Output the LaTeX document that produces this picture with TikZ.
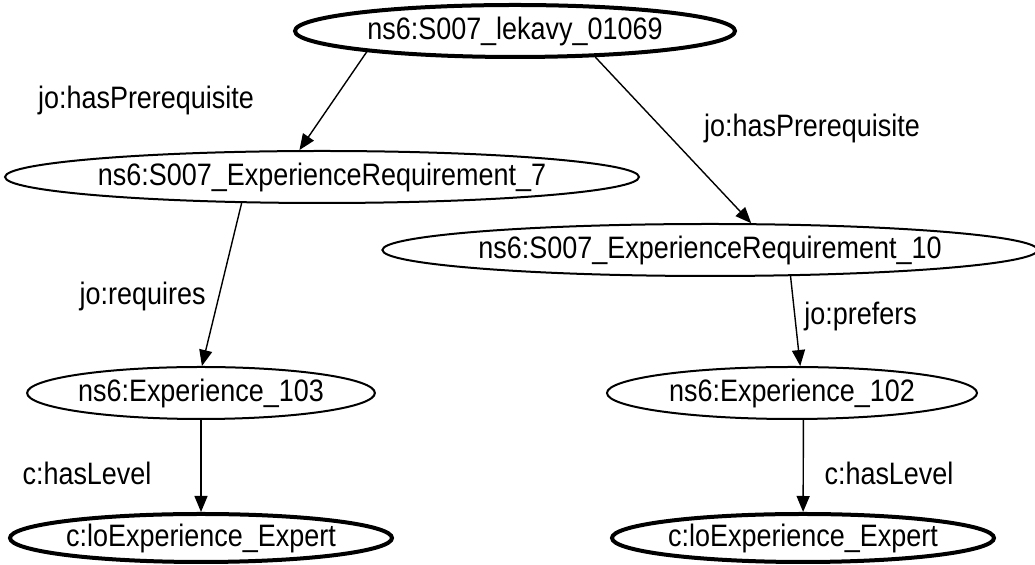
\documentclass[tikz,border=0pt]{standalone}
\usepackage{fontspec}
\setmainfont[FakeStretch=0.87]{Liberation Sans}
\usetikzlibrary{arrows.meta, shapes.geometric}

\begin{document}
\begin{tikzpicture}[
    x=0.5pt, y=-0.5pt,
    res/.style={draw, ellipse, inner sep=0pt, line width=1pt, minimum height=26pt,
                font=\fontsize{15.5}{18}\selectfont},
    leaf/.style={res, line width=2pt},
    lbl/.style={inner sep=0pt, font=\fontsize{15.5}{18}\selectfont},
    link/.style={-{Triangle[length=8pt, width=6.5pt]}, line width=0.7pt},
  ]
  \useasboundingbox (0,0) rectangle (1035,565);
  \node[leaf, minimum width=220pt] (lekavy) at (515,31) {ns6:S007\_lekavy\_01069};
  \node[res, minimum width=314pt] (req7) at (322,177) {ns6:S007\_ExperienceRequirement\_7};
  \node[res, minimum width=321pt] (req10) at (710,250) {ns6:S007\_ExperienceRequirement\_10};
  \node[res, minimum width=167pt] (exp103) at (201,393) {ns6:Experience\_103};
  \node[res, minimum width=185pt] (exp102) at (792,393) {ns6:Experience\_102};
  \node[leaf, minimum width=191pt, minimum height=24pt] (lvl103) at (201,538) {c:loExperience\_Expert};
  \node[leaf, minimum width=191pt, minimum height=24pt] (lvl102) at (803,538) {c:loExperience\_Expert};

  \draw[link] (lekavy.188) -- (req7.130);
  \draw[link] (lekavy.342) -- (req10.33);
  \draw[link] (req7.198) -- (exp103.88);
  \draw[link] (req10.342) -- (exp102.73);
  \draw[link] (exp103) -- (lvl103);
  \draw[link] (exp102.293) -- (lvl102);

  % edge labels
  \node[lbl] (l1) at (146,100) {jo:hasPrerequisite};
  \node[lbl] (l2) at (812,128) {jo:hasPrerequisite};
  \node[lbl, anchor=east] (l3) at (206,296) {jo:requires};
  \node[lbl, anchor=west] (l4) at (804,316) {jo:prefers};
  \node[lbl] (l5) at (87,473) {c:hasLevel};
  \node[lbl] (l6) at (889,473) {c:hasLevel};
\end{tikzpicture}
\end{document}
